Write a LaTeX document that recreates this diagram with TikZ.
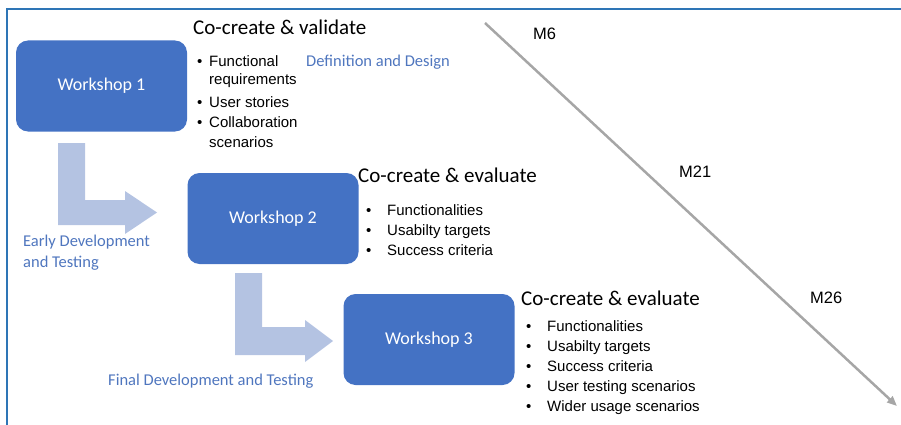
\documentclass[tikz,border=0pt]{standalone}
\usepackage{fontspec}
\setmainfont{Carlito}
\newfontfamily\bulfont{Liberation Sans}
\usetikzlibrary{arrows.meta}
\definecolor{wsblue}{HTML}{4472C4}
\definecolor{lightarrow}{HTML}{B4C3E2}
\definecolor{labelblue}{HTML}{4F76BE}
\definecolor{frameblue}{HTML}{2E75B6}
\definecolor{timegray}{HTML}{A6A6A6}
\tikzset{
  ws/.style={fill=wsblue, rounded corners=12pt, text=white, font=\fontsize{18}{20}\selectfont,
    minimum width=171pt, minimum height=91pt, inner sep=0pt},
  ttl/.style={anchor=base west, inner sep=0pt, font=\fontsize{21}{24}\selectfont},
  bul/.style={anchor=base west, inner sep=0pt, font=\bulfont\fontsize{15}{17}\selectfont},
  lbl/.style={anchor=base west, inner sep=0pt, text=labelblue, font=\fontsize{16.5}{19}\selectfont},
  mlbl/.style={anchor=base west, inner sep=0pt, font=\bulfont\fontsize{16.5}{19}\selectfont},
  blockarrow/.style={fill=lightarrow},
  timeline/.style={draw=timegray, line width=2.5pt, -{Triangle[length=10pt,width=8pt]}},
}
\begin{document}
\begin{tikzpicture}[x=1pt,y=-1pt]
\useasboundingbox (0,0) rectangle (901,425);
% frame
\draw[frameblue, line width=2pt] (7,426) -- (7,9.5) -- (902,9.5);

% block arrows
\fill[blockarrow] (58,143) -- (85,143) -- (85,200) -- (125,200) -- (125,191) -- (157,212.5)
  -- (125,234) -- (125,225) -- (58,225) -- cycle;
\fill[blockarrow] (235,273) -- (262,273) -- (262,327) -- (305,327) -- (305,320) -- (333,341)
  -- (305,362) -- (305,355) -- (235,355) -- cycle;

% workshops
\node[ws] (w1) at (101.5,86) {Workshop 1};
\node[ws] (w2) at (273,218.5) {Workshop 2};
\node[ws] (w3) at (429,339.5) {Workshop 3};

% timeline
\coordinate (tstart) at (485,23);
\coordinate (tend) at (897,406);
\draw[timeline] (tstart) -- (tend);
\node[mlbl] (m6) at (533,40) {M6};
\node[mlbl] (m21) at (679,177) {M21};
\node[mlbl] (m26) at (810,303) {M26};

% workshop 1 text
\node[ttl] (t1) at (193,35) {Co-create \& validate};
\node[lbl] (dd) at (306,67) {Definition and Design};
\node[bul] (b1a) at (197,67) {•};
\node[bul] (b1b) at (209,67) {Functional};
\node[bul] (b1c) at (209,85) {requirements};
\node[bul] (b1d) at (197,107) {•};
\node[bul] (b1e) at (209,107) {User stories};
\node[bul] (b1f) at (197,128) {•};
\node[bul] (b1g) at (209,128) {Collaboration};
\node[bul] (b1h) at (209,147) {scenarios};

% workshop 2 text
\node[ttl] (t2) at (358,182) {Co-create \& evaluate};
\node[bul] (b2a) at (366,215) {•};
\node[bul] (b2b) at (387,215) {Functionalities};
\node[bul] (b2c) at (366,235) {•};
\node[bul] (b2d) at (387,235) {Usabilty targets};
\node[bul] (b2e) at (366,255) {•};
\node[bul] (b2f) at (387,255) {Success criteria};

% workshop 3 text
\node[ttl] (t3) at (521,305) {Co-create \& evaluate};
\node[bul] (b3a) at (526,331) {•};
\node[bul] (b3b) at (547,331) {Functionalities};
\node[bul] (b3c) at (526,351) {•};
\node[bul] (b3d) at (547,351) {Usabilty targets};
\node[bul] (b3e) at (526,371) {•};
\node[bul] (b3f) at (547,371) {Success criteria};
\node[bul] (b3g) at (526,391) {•};
\node[bul] (b3h) at (547,391) {User testing scenarios};
\node[bul] (b3i) at (526,411) {•};
\node[bul] (b3j) at (547,411) {Wider usage scenarios};

% phase labels
\node[lbl] (ed1) at (23,246) {Early Development};
\node[lbl] (ed2) at (23,267) {and Testing};
\node[lbl] (fd) at (108,385) {Final Development and Testing};
\end{tikzpicture}
\end{document}
